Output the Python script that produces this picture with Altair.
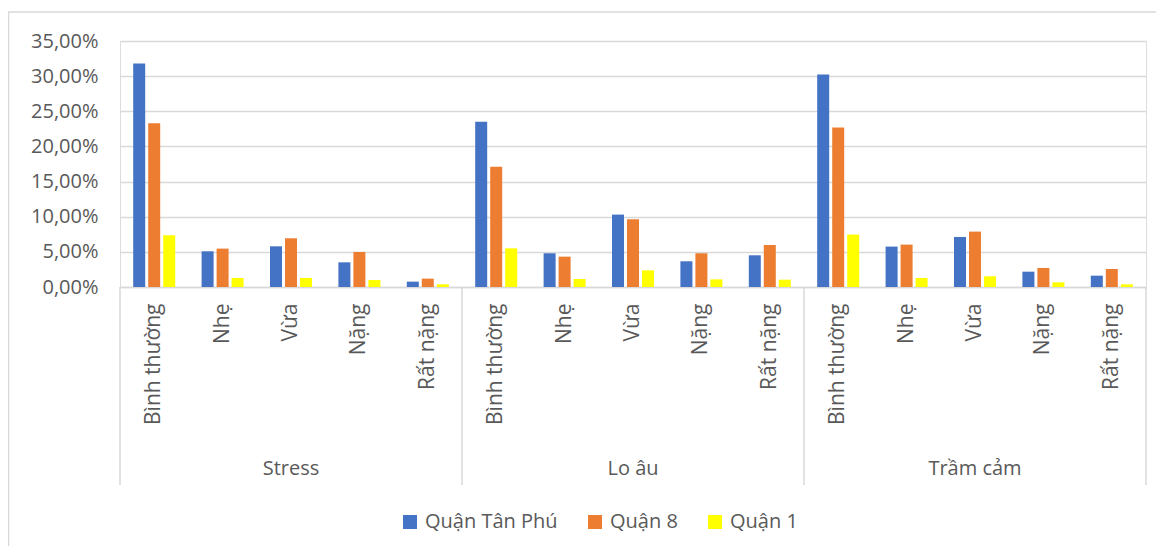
import altair as alt
import pandas as pd

groups = ["Stress", "Lo âu", "Trầm cảm"]
levels = ["Bình thường", "Nhẹ", "Vừa", "Nặng", "Rất nặng"]
series = ["Quận Tân Phú", "Quận 8", "Quận 1"]
colors = ["#4472C4", "#ED7D31", "#FFFF00"]

# percent values, in order Stress(5 levels), Lo âu(5), Trầm cảm(5)
tan_phu = [31.8, 5.08, 5.79, 3.51, 0.76, 23.5, 4.8, 10.3, 3.66, 4.51, 30.25, 5.75, 7.12, 2.18, 1.61]
quan_8 = [23.3, 5.46, 6.93, 4.99, 1.19, 17.1, 4.32, 9.64, 4.8, 5.98, 22.7, 6.03, 7.88, 2.71, 2.56]
quan_1 = [7.36, 1.28, 1.28, 1.0, 0.38, 5.5, 1.14, 2.37, 1.09, 1.04, 7.46, 1.28, 1.52, 0.66, 0.38]

y_ticks = [0, 0.05, 0.10, 0.15, 0.20, 0.25, 0.30, 0.35]

keys = [f"{g}|{l}" for g in groups for l in levels]
rows = []
for s, vals in zip(series, [tan_phu, quan_8, quan_1]):
    for k, v in zip(keys, vals):
        rows.append({"key": k, "series": s, "value": v / 100})
df = pd.DataFrame(rows)

df_groups = pd.DataFrame({"key": [f"{g}|{levels[2]}" for g in groups], "group": groups})
df_sep_left = pd.DataFrame({"key": [f"{g}|{levels[0]}" for g in groups]})
df_sep_right = pd.DataFrame({"key": [f"{groups[-1]}|{levels[-1]}"]})
df_one = pd.DataFrame({"a": [1]})

TXT = "#595959"
GRID = "#d9d9d9"
FS = 20

xscale = alt.Scale(paddingInner=0, paddingOuter=0)

bars = alt.Chart(df).mark_bar().encode(
    x=alt.X("key:N", sort=keys, scale=xscale, title=None,
            axis=alt.Axis(labelExpr="split(datum.value, '|')[1]", labelAngle=-90,
                          labelPadding=16, ticks=False, domainColor=GRID, domainWidth=1.5,
                          labelFontSize=21, labelColor=TXT, grid=False, labelOverlap=False)),
    xOffset=alt.XOffset("series:N", sort=series,
                        scale=alt.Scale(paddingInner=0.2, paddingOuter=0.88)),
    y=alt.Y("value:Q", scale=alt.Scale(domain=[0, 0.35], nice=False), title=None,
            axis=alt.Axis(values=y_ticks, labelExpr="replace(format(datum.value, '.2%'), '.', ',')",
                          domain=False, ticks=False, labelPadding=22, gridColor=GRID,
                          gridWidth=1.5, labelFontSize=FS, labelColor=TXT)),
    color=alt.Color("series:N", sort=series, scale=alt.Scale(domain=series, range=colors),
                    legend=alt.Legend(orient="none", legendX=280, legendY=471,
                                      direction="horizontal", title=None, symbolType="square",
                                      symbolSize=196, symbolStrokeWidth=0, labelFontSize=FS,
                                      labelColor=TXT, labelOffset=5, columnPadding=27)),
)

group_text = alt.Chart(df_groups).mark_text(fontSize=FS, color=TXT, baseline="middle",
                                             align="center").encode(
    x=alt.X("key:N", sort=keys),
    y=alt.value(428),
    text="group:N",
)

sep_left = alt.Chart(df_sep_left).mark_rule(color=GRID, strokeWidth=1.5).encode(
    x=alt.X("key:N", sort=keys, bandPosition=0),
    y=alt.value(246), y2=alt.value(444),
)
sep_right = alt.Chart(df_sep_right).mark_rule(color=GRID, strokeWidth=1.5).encode(
    x=alt.X("key:N", sort=keys, bandPosition=1),
    y=alt.value(246), y2=alt.value(444),
)

border = alt.Chart(df_one).mark_rect(fillOpacity=0, stroke=GRID, strokeWidth=1.5).encode(
    x=alt.value(-111.5), x2=alt.value(1200), y=alt.value(-29), y2=alt.value(700),
)

chart = alt.layer(border, sep_left, sep_right, bars, group_text).properties(
    width=1026, height=246,
    autosize=alt.AutoSizeParams(type="none"),
    padding={"left": 112, "top": 33, "right": 10, "bottom": 259},
).configure_view(stroke=None).configure(font="Open Sans")

chart.save("out.html", embed_options={"renderer": "svg", "actions": False})
